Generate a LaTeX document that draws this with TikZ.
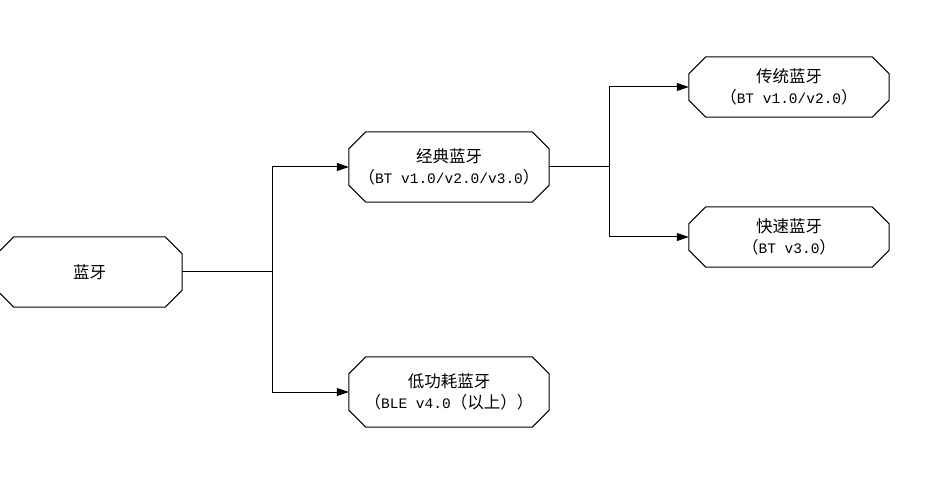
\documentclass[tikz,border=0pt]{standalone}
\usepackage{fontspec}
\newfontfamily\cjk{Noto Sans CJK SC}
\newfontfamily\mono{Liberation Mono}
\usetikzlibrary{arrows.meta}
\newcommand\octo[1]{%
  \draw[octline] ([xshift=17pt]#1.north west) -- ([xshift=-17pt]#1.north east)
   -- ([yshift=-17pt]#1.north east) -- ([yshift=17pt]#1.south east)
   -- ([xshift=-17pt]#1.south east) -- ([xshift=17pt]#1.south west)
   -- ([yshift=17pt]#1.south west) -- ([yshift=-17pt]#1.north west) -- cycle;}
\newcommand\lat[1]{{\mono\fontsize{14.5pt}{21pt}\selectfont #1}}
\begin{document}
\begin{tikzpicture}[x=1pt,y=-1pt,
  box/.style={inner sep=0pt, minimum width=200pt, minimum height=70pt, align=center,
    font=\fontsize{16.5pt}{21pt}\selectfont\cjk},
  small/.style={minimum height=60pt},
  octline/.style={line width=1pt, black},
  conn/.style={line width=1pt, black},
  arr/.style={conn, -{Triangle[length=12pt,width=8pt]}}]
\useasboundingbox (0,0) rectangle (932,494);
\node[box, minimum width=185pt] (root) at (89.5,272) {蓝牙};
\node[box] (classic) at (449,167) {经典蓝牙\\（\lat{BT v1.0/v2.0/v3.0}）};
\node[box] (low) at (449,392) {低功耗蓝牙\\（\lat{BLE v4.0}（以上））};
\node[box, small] (trad) at (789,87) {传统蓝牙\\（\lat{BT v1.0/v2.0}）};
\node[box, small] (fast) at (789,237) {快速蓝牙\\（\lat{BT v3.0}）};
\octo{root}\octo{classic}\octo{low}\octo{trad}\octo{fast}
\coordinate (j1) at (272,272);
\coordinate (j2) at (609,167);
\draw[conn] (root.east) -- (j1);
\draw[arr] (j1) |- (classic.west);
\draw[arr] (j1) |- (low.west);
\draw[conn] (classic.east) -- (j2);
\draw[arr] (j2) |- (trad.west);
\draw[arr] (j2) |- (fast.west);
\end{tikzpicture}
\end{document}
